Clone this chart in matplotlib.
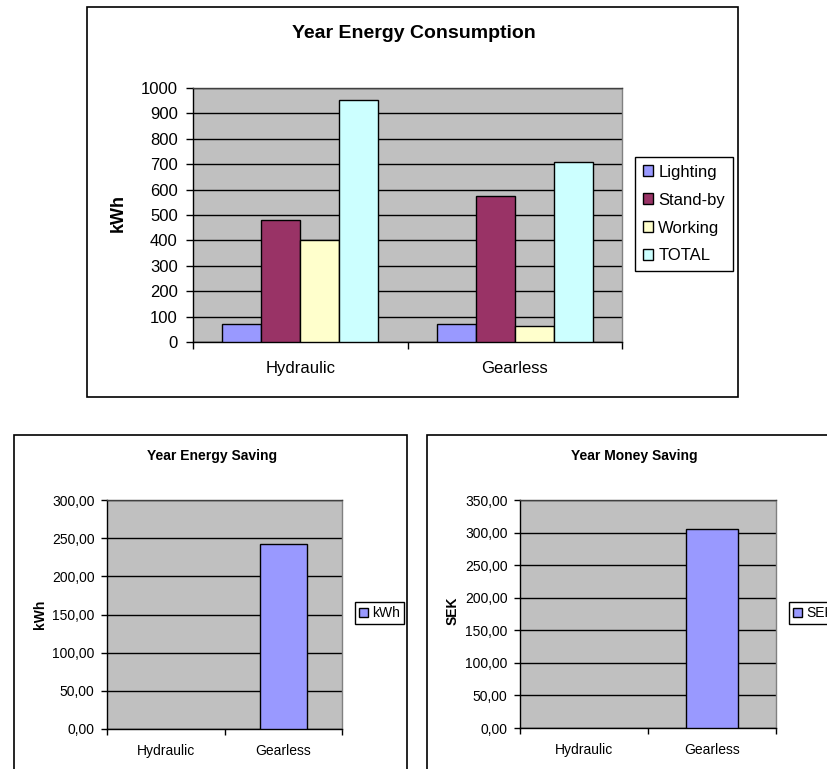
import matplotlib
matplotlib.use("Agg")
import matplotlib.pyplot as plt
from matplotlib.patches import Rectangle, Patch

plt.rcParams['font.family'] = ['Liberation Sans', 'DejaVu Sans']

# data
categories = ['Hydraulic', 'Gearless']
series_names = ['Lighting', 'Stand-by', 'Working', 'TOTAL']
lighting = [72, 72]
standby = [482, 574]
working = [400, 62]
total = [954, 707]
energy_saving = [0, 243]
money_saving = [0, 306]

colors = ['#9999FF', '#993366', '#FFFFCC', '#CCFFFF']
plot_bg = '#C0C0C0'

W, H = 827, 769
fig = plt.figure(figsize=(W / 100, H / 100), dpi=100)


def box(l, t, r, b):
    # pixel box -> figure fraction
    return [l / W, 1 - b / H, (r - l) / W, (b - t) / H]


def frame(l, t, r, b):
    fig.patches.append(Rectangle((l / W, 1 - b / H), (r - l) / W, (b - t) / H,
                                 transform=fig.transFigure, fill=False,
                                 edgecolor='black', linewidth=1.2, clip_on=False))


def style_axes(ax, ymax, step, fmt, fs, tick_len, ypad, xpad):
    ax.set_facecolor(plot_bg)
    ax.set_xlim(-0.5, 1.5)
    ax.set_ylim(0, ymax)
    yt = [i * step for i in range(int(round(ymax / step)) + 1)]
    ax.set_yticks(yt)
    ax.set_yticklabels([fmt(v) for v in yt], fontsize=fs)
    ax.yaxis.grid(True, color='black', linewidth=1)
    ax.set_axisbelow(True)
    ax.set_xticks([0, 1])
    ax.set_xticklabels(categories, fontsize=fs)
    ax.set_xticks([-0.5, 0.5, 1.5], minor=True)
    ax.tick_params(axis='x', which='major', length=0, pad=xpad)
    ax.tick_params(axis='x', which='minor', length=tick_len, width=1, direction='out')
    ax.tick_params(axis='y', length=tick_len, width=1, pad=ypad, direction='out')
    ax.spines['left'].set_color('black')
    ax.spines['bottom'].set_color('black')
    ax.spines['top'].set_color('#404040')
    ax.spines['right'].set_color('#808080')
    for s in ax.spines.values():
        s.set_linewidth(1)


def single_bars(ax, vals):
    # Excel draws nothing for a zero value
    xs = [i for i, v in enumerate(vals) if v > 0]
    ax.bar(xs, [vals[i] for i in xs], width=0.4, color=colors[0],
           edgecolor='black', linewidth=1, zorder=3)


# top chart
frame(87, 7, 738, 397)
ax1 = fig.add_axes(box(193, 88, 622, 342))
style_axes(ax1, 1000, 100, lambda v: f"{v:d}", 12, 5, 6, 14)
values = [lighting, standby, working, total]
bw = 39 / 214.5
for i, (name, vals) in enumerate(zip(series_names, values)):
    xs = [c + (i - 1.5) * bw for c in range(len(categories))]
    ax1.bar(xs, vals, width=bw, color=colors[i], edgecolor='black', linewidth=1, zorder=3)
fig.text(414 / W, 1 - 33 / H, 'Year Energy Consumption', ha='center', va='center',
         fontsize=14, fontweight='bold')
fig.text(118 / W, 1 - 213 / H, 'kWh', ha='center', va='center', rotation=90,
         fontsize=13, fontweight='bold')
handles = [Patch(facecolor=c, edgecolor='black', linewidth=1) for c in colors]
leg1 = fig.legend(handles, series_names, loc='upper left',
                  bbox_to_anchor=(635 / W, 1 - 157 / H), fontsize=12,
                  frameon=True, fancybox=False, framealpha=1, edgecolor='black',
                  handlelength=0.65, handleheight=0.65, handletextpad=0.3,
                  labelspacing=0.78, borderpad=0.45, borderaxespad=0)
leg1.get_frame().set_linewidth(1)


def comma(v):
    return f"{v:.2f}".replace('.', ',')


# bottom left chart
frame(14, 435, 407, 800)
ax2 = fig.add_axes(box(107, 500, 342, 729))
style_axes(ax2, 300, 50, comma, 10, 4, 5, 11)
single_bars(ax2, energy_saving)
fig.text(212 / W, 1 - 456 / H, 'Year Energy Saving', ha='center', va='center',
         fontsize=10, fontweight='bold')
fig.text(40 / W, 1 - 614 / H, 'kWh', ha='center', va='center', rotation=90,
         fontsize=10, fontweight='bold')
leg2 = fig.legend([Patch(facecolor=colors[0], edgecolor='black', linewidth=1)], ['kWh'],
                  loc='upper left', bbox_to_anchor=(355 / W, 1 - 602 / H), fontsize=10,
                  frameon=True, fancybox=False, framealpha=1, edgecolor='black',
                  handlelength=0.65, handleheight=0.65, handletextpad=0.3,
                  borderpad=0.3, borderaxespad=0)
leg2.get_frame().set_linewidth(1)

# bottom right chart
frame(427, 435, 900, 800)
ax3 = fig.add_axes(box(520, 500, 776, 728))
style_axes(ax3, 350, 50, comma, 10, 4, 5, 11)
single_bars(ax3, money_saving)
fig.text(634 / W, 1 - 456 / H, 'Year Money Saving', ha='center', va='center',
         fontsize=10, fontweight='bold')
fig.text(453 / W, 1 - 611 / H, 'SEK', ha='center', va='center', rotation=90,
         fontsize=10, fontweight='bold')
leg3 = fig.legend([Patch(facecolor=colors[0], edgecolor='black', linewidth=1)], ['SEK'],
                  loc='upper left', bbox_to_anchor=(789 / W, 1 - 602 / H), fontsize=10,
                  frameon=True, fancybox=False, framealpha=1, edgecolor='black',
                  handlelength=0.65, handleheight=0.65, handletextpad=0.3,
                  borderpad=0.3, borderaxespad=0)
leg3.get_frame().set_linewidth(1)

fig.savefig('out.png', dpi=100, facecolor='white')
